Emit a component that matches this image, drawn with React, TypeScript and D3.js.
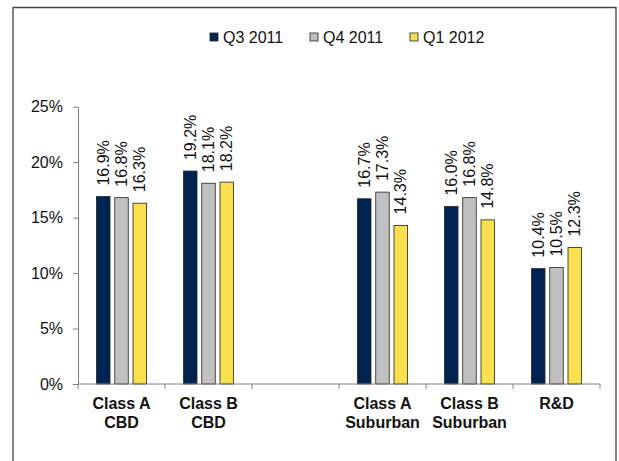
import React, { useEffect, useRef } from "react";
import * as d3 from "d3";

const categories = ["Class A|CBD", "Class B|CBD", "", "Class A|Suburban", "Class B|Suburban", "R&D"];
const series = ["Q3 2011", "Q4 2011", "Q1 2012"];
const q3_2011 = [16.9, 19.2, null, 16.7, 16.0, 10.4];
const q4_2011 = [16.8, 18.1, null, 17.3, 16.8, 10.5];
const q1_2012 = [16.3, 18.2, null, 14.3, 14.8, 12.3];
const yTicks = [0, 5, 10, 15, 20, 25];

const colors = ["#002351", "#c0c0c0", "#f9e04f"];
const FONT = "'Liberation Sans', Arial, sans-serif";

export default function App() {
  const ref = useRef<SVGSVGElement>(null);

  useEffect(() => {
    const svg = d3.select(ref.current);
    svg.selectAll("*").remove();

    const H = 461;
    const left = 78, right = 600, top = 106.7, bottom = 384;

    // frame (bottom edge is off the picture)
    svg.append("path")
      .attr("d", `M13,${H + 2}V7.5H616V${H + 2}`)
      .attr("fill", "none")
      .attr("stroke", "#444")
      .attr("stroke-width", 1.3);

    const x = d3.scaleBand<string>()
      .domain(categories.map((c, i) => i + ""))
      .range([left, right])
      .padding(0);

    const xs = d3.scaleBand<string>()
      .domain(series)
      .range([18.5, 68.5])
      .paddingInner(0.26)
      .paddingOuter(0);

    const y = d3.scaleLinear().domain([0, 25]).range([bottom, top]);

    const data = [q3_2011, q4_2011, q1_2012];

    // bars + rotated value labels
    data.forEach((vals, s) => {
      vals.forEach((v, i) => {
        if (v == null) return;
        const bx = (x(i + "") as number) + (xs(series[s]) as number);
        svg.append("rect")
          .attr("x", bx)
          .attr("y", y(v))
          .attr("width", xs.bandwidth())
          .attr("height", y(0) - y(v))
          .attr("fill", colors[s])
          .attr("stroke", "#222")
          .attr("stroke-width", 0.8);

        svg.append("text")
          .attr("transform", `translate(${bx + xs.bandwidth() / 2},${y(v) - 11}) rotate(-90)`)
          .attr("dominant-baseline", "central")
          .attr("font-family", FONT)
          .attr("font-size", 16)
          .attr("fill", "#111")
          .text(v.toFixed(1) + "%");
      });
    });

    // y axis
    const yAxis = d3.axisLeft(y)
      .tickValues(yTicks)
      .tickFormat((d) => d + "%")
      .tickSize(5)
      .tickSizeOuter(0)
      .tickPadding(10);

    const gy = svg.append("g")
      .attr("transform", `translate(${left},0)`)
      .call(yAxis);
    gy.select(".domain").attr("stroke", "#808080");
    gy.selectAll(".tick line").attr("stroke", "#808080");
    gy.selectAll(".tick text")
      .attr("font-family", FONT)
      .attr("font-size", 16)
      .attr("fill", "#111");

    // x axis line + boundary ticks
    svg.append("line")
      .attr("x1", left).attr("x2", right)
      .attr("y1", bottom).attr("y2", bottom)
      .attr("stroke", "#808080");
    const bounds = categories.map((c, i) => x(i + "") as number).concat([right]);
    svg.selectAll(".xtick")
      .data(bounds)
      .enter()
      .append("line")
      .attr("x1", (d) => d).attr("x2", (d) => d)
      .attr("y1", bottom).attr("y2", bottom + 5)
      .attr("stroke", "#808080");

    // category labels, two lines each
    categories.forEach((c, i) => {
      if (!c) return;
      const cx = (x(i + "") as number) + x.bandwidth() / 2;
      const t = svg.append("text")
        .attr("text-anchor", "middle")
        .attr("font-family", FONT)
        .attr("font-size", 16)
        .attr("font-weight", "bold")
        .attr("fill", "#111");
      c.split("|").forEach((line, j) => {
        t.append("tspan").attr("x", cx).attr("y", 409 + j * 19).text(line);
      });
    });

    // legend
    const lg = svg.append("g");
    series.forEach((s, i) => {
      const lx = 210 + i * 100;
      lg.append("rect")
        .attr("x", lx).attr("y", 33)
        .attr("width", 8).attr("height", 8)
        .attr("fill", colors[i])
        .attr("stroke", "#222")
        .attr("stroke-width", 0.8);
      lg.append("text")
        .attr("x", lx + 13).attr("y", 37)
        .attr("dominant-baseline", "central")
        .attr("font-family", FONT)
        .attr("font-size", 16)
        .attr("fill", "#111")
        .text(s);
    });
  }, []);

  return (
    <svg
      ref={ref}
      width={619}
      height={461}
      style={{ position: "absolute", left: 0, top: 0, background: "#fff" }}
    />
  );
}
